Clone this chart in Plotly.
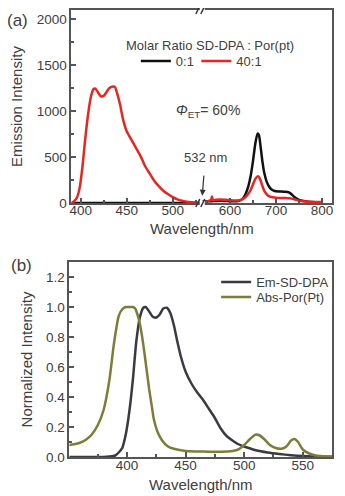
import plotly.graph_objects as go

# page body has an 8px margin: figure is drawn from (8, 8) inside the 345x496 window
OFF = 8
W, H = 345 - OFF, 496 - OFF

# ---------------- Panel (a) data ----------------
wl_a_left = [390, 393, 396, 399, 402, 405, 408, 411, 414, 416, 419, 422, 425, 428, 431, 434, 437,
             440, 443, 446, 450, 455, 460, 465, 470, 475, 480, 485, 490, 495, 500, 505, 510,
             515, 520, 525, 530, 532]
red_left = [0, 20, 60, 170, 400, 700, 960, 1150, 1240, 1245, 1200, 1160, 1165, 1205, 1250, 1265, 1265,
            1180, 1060, 910, 780, 690, 600, 510, 400, 320, 240, 180, 130, 95, 65, 40, 25,
            15, 8, 4, 1, 0]
wl_black_left = [390, 450, 500, 532]
black_left = [0, 0, 0, 0]

wl_a_right = [540, 550, 560, 570, 580, 590, 600, 610, 620, 625, 630, 635, 640, 645, 650, 655, 660,
              663, 667, 671, 675, 680, 685, 690, 695, 700, 710, 720, 728, 735, 740, 750, 760,
              770, 780, 790, 800]
black_right = [15, 18, 20, 22, 25, 22, 20, 18, 25, 35, 60, 110, 180, 290, 450, 640, 755,
               740, 600, 440, 320, 230, 180, 150, 135, 128, 125, 122, 115, 90, 65, 35, 22,
               15, 10, 8, 6]
wl_red_right = [540, 548, 555, 559, 561, 563, 570, 580, 590, 600, 610, 620, 630, 635, 640, 645, 650,
                655, 660, 663, 667, 671, 675, 680, 685, 690, 700, 710, 720, 730, 740, 750, 760,
                770, 780, 790, 800]
red_right = [5, 15, 25, 30, 70, 30, 35, 38, 35, 32, 28, 28, 50, 70, 100, 140, 200,
             260, 290, 285, 240, 180, 130, 95, 75, 65, 58, 55, 55, 52, 40, 25, 18,
             14, 12, 10, 10]

# ---------------- Panel (b) data ----------------
wl_em = [350, 370, 380, 385, 390, 393, 396, 399, 402, 405, 408, 411, 414, 416, 419, 422, 425, 428,
         431, 434, 437, 440, 443, 446, 450, 455, 460, 465, 470, 475, 480, 485, 490, 495, 500,
         510, 520, 530, 540, 550, 560, 575]
em_sd_dpa = [0, 0, 0, 0.003, 0.01, 0.03, 0.06, 0.15, 0.30, 0.51, 0.77, 0.93, 0.995, 1.0, 0.97, 0.935,
             0.93, 0.95, 0.99, 0.995, 0.96, 0.88, 0.77, 0.67, 0.57, 0.49, 0.43, 0.38, 0.32, 0.26,
             0.19, 0.14, 0.11, 0.085, 0.07, 0.045, 0.03, 0.02, 0.012, 0.006, 0.003, 0.001]
wl_abs = [350, 355, 360, 365, 370, 375, 380, 385, 389, 393, 396, 399, 402, 405, 407, 409, 411, 413,
          415, 417, 419, 421, 423, 426, 430, 435, 440, 450, 460, 470, 480, 490, 495, 500, 505,
          510, 513, 517, 522, 527, 532, 536, 540, 543, 546, 550, 555, 560, 565, 570, 575]
abs_por = [0.08, 0.085, 0.095, 0.115, 0.15, 0.21, 0.31, 0.51, 0.76, 0.94, 0.985, 1.0, 1.0, 1.0, 0.99,
           0.95, 0.89, 0.80, 0.69, 0.57, 0.45, 0.35, 0.25, 0.17, 0.11, 0.07, 0.055, 0.04, 0.037,
           0.035, 0.035, 0.04, 0.05, 0.08, 0.12, 0.15, 0.145, 0.12, 0.08, 0.06, 0.055, 0.07, 0.11,
           0.12, 0.10, 0.05, 0.025, 0.012, 0.006, 0.003, 0.001]

BLACK = "#111111"
RED = "#ea2420"
DGRAY = "#3a3a42"
OLIVE = "#7d7d3a"
AX = "#555555"
TXT = "#404040"
FONT = "Liberation Sans, Arial, sans-serif"


def px(x):
    """window pixel x -> paper fraction"""
    return (x - OFF) / W


def py(y):
    """window pixel y -> paper fraction"""
    return 1 - (y - OFF) / H


def ln(color):
    return dict(color=color, width=2.5, shape="spline", smoothing=0.6)


fig = go.Figure()

# Panel (a) traces
fig.add_trace(go.Scatter(x=wl_black_left, y=black_left, mode="lines", line=ln(BLACK),
                         xaxis="x", yaxis="y", showlegend=False, legendgroup="a0"))
fig.add_trace(go.Scatter(x=wl_a_right, y=black_right, mode="lines", line=ln(BLACK),
                         xaxis="x2", yaxis="y2", name="0:1", legendgroup="a0", legend="legend"))
fig.add_trace(go.Scatter(x=wl_a_left, y=red_left, mode="lines", line=ln(RED),
                         xaxis="x", yaxis="y", showlegend=False, legendgroup="a1"))
fig.add_trace(go.Scatter(x=wl_red_right, y=red_right, mode="lines", line=ln(RED),
                         xaxis="x2", yaxis="y2", name="40:1", legendgroup="a1", legend="legend2"))

# Panel (b) traces
fig.add_trace(go.Scatter(x=wl_em, y=em_sd_dpa, mode="lines", line=ln(DGRAY),
                         xaxis="x3", yaxis="y3", name="Em-SD-DPA", legend="legend3"))
fig.add_trace(go.Scatter(x=wl_abs, y=abs_por, mode="lines", line=ln(OLIVE),
                         xaxis="x3", yaxis="y3", name="Abs-Por(Pt)", legend="legend4"))

tickfont = dict(size=13.5, color=TXT, family=FONT)
titlefont = dict(size=15, color=TXT, family=FONT)

common = dict(showgrid=False, zeroline=False, showline=True, linecolor=AX, linewidth=2,
              ticks="inside", ticklen=5, tickwidth=1.5, tickcolor=AX, tickfont=tickfont)

ya_dom = [py(203), py(10)]
yb_dom = [py(457), py(262)]


def leg(x, y):
    return dict(x=px(x), y=py(y), xanchor="left", yanchor="middle",
                font=dict(size=13, color=TXT, family=FONT), bgcolor="rgba(0,0,0,0)", itemwidth=30)


fig.update_layout(
    width=W, height=H,
    margin=dict(l=0, r=0, t=0, b=0),
    paper_bgcolor="white", plot_bgcolor="white",
    font=dict(family=FONT, color=TXT),
    xaxis=dict(domain=[px(70), px(202)], anchor="y", range=[390, 532], tick0=400, dtick=50,
               mirror=True, ticklabelstandoff=-6,
               minor=dict(dtick=25, ticks="inside", ticklen=3, tickcolor=AX), **common),
    xaxis2=dict(domain=[px(202), px(333)], anchor="y2", range=[540, 822], tick0=600, dtick=100,
                mirror=True, ticklabelstandoff=-6,
                minor=dict(dtick=50, ticks="inside", ticklen=3, tickcolor=AX), **common),
    yaxis=dict(domain=ya_dom, anchor="x", range=[0, 2100], tick0=0, dtick=500,
               minor=dict(dtick=250, ticks="inside", ticklen=3, tickcolor=AX),
               title=dict(text="Emission Intensity", font=titlefont, standoff=13), automargin=False,
               **common),
    yaxis2=dict(domain=ya_dom, anchor="x2", matches="y", side="right", showticklabels=False,
                showgrid=False, zeroline=False, showline=True, linecolor=AX, linewidth=2, ticks=""),
    xaxis3=dict(domain=[px(68), px(333)], anchor="y3", range=[351, 575], tick0=400, dtick=50,
                mirror=True, ticklabelstandoff=-5,
                minor=dict(dtick=25, ticks="inside", ticklen=3, tickcolor=AX),
                title=dict(text="Wavelength/nm", font=titlefont, standoff=7), automargin=False,
                **common),
    yaxis3=dict(domain=yb_dom, anchor="x3", range=[0, 1.3], tick0=0, dtick=0.2, tickformat=".1f",
                mirror=True, minor=dict(dtick=0.1, ticks="inside", ticklen=3, tickcolor=AX),
                title=dict(text="Normalized Intensity", font=titlefont, standoff=10), automargin=False,
                **common),
    legend=leg(135, 61),
    legend2=leg(196, 61),
    legend3=leg(216, 282),
    legend4=leg(216, 297),
)

ann = []
# axis title for split x axis of panel (a)
ann.append(dict(text="Wavelength/nm", x=px(202), y=py(229), xref="paper", yref="paper",
                showarrow=False, font=titlefont, xanchor="center", yanchor="middle"))
# panel labels
ann.append(dict(text="(a)", x=px(16), y=py(20), xref="paper", yref="paper", showarrow=False,
                font=dict(size=17, color=TXT, family=FONT), xanchor="center", yanchor="middle"))
ann.append(dict(text="(b)", x=px(20), y=py(265), xref="paper", yref="paper", showarrow=False,
                font=dict(size=17, color=TXT, family=FONT), xanchor="center", yanchor="middle"))
# legend title
ann.append(dict(text="Molar Ratio SD-DPA : Por(pt)", x=px(210), y=py(36), xref="paper", yref="paper",
                showarrow=False, font=dict(size=13, color=TXT, family=FONT)))
# energy transfer
ann.append(dict(text="<i>Φ</i><sub>ET</sub>= 60%", x=px(208), y=py(100), xref="paper", yref="paper",
                showarrow=False, font=dict(size=14, color=TXT, family=FONT)))
# 532 nm label with arrow pointing at the excitation wavelength
ann.append(dict(text="532 nm", x=532, y=80, xref="x", yref="y", showarrow=True, ax=3, ay=-38,
                arrowhead=2, arrowsize=1, arrowwidth=1.2, arrowcolor="#333333", startstandoff=9,
                font=dict(size=13, color=TXT, family=FONT)))
fig.update_layout(annotations=ann)

# axis break marks ("//") on the top and bottom frame lines
shapes = []
for yy in (10, 203):
    shapes.append(dict(type="rect", xref="paper", yref="paper", x0=px(199.5), x1=px(204.5),
                       y0=py(yy + 2), y1=py(yy - 2), fillcolor="white", line=dict(width=0)))
    for dx in (-2.5, 2.5):
        shapes.append(dict(type="line", xref="paper", yref="paper",
                           x0=px(200 + dx - 2), y0=py(yy + 4), x1=px(200 + dx + 2), y1=py(yy - 4),
                           line=dict(color="#333333", width=1.5)))
fig.update_layout(shapes=shapes)

fig.write_html("out.html")
